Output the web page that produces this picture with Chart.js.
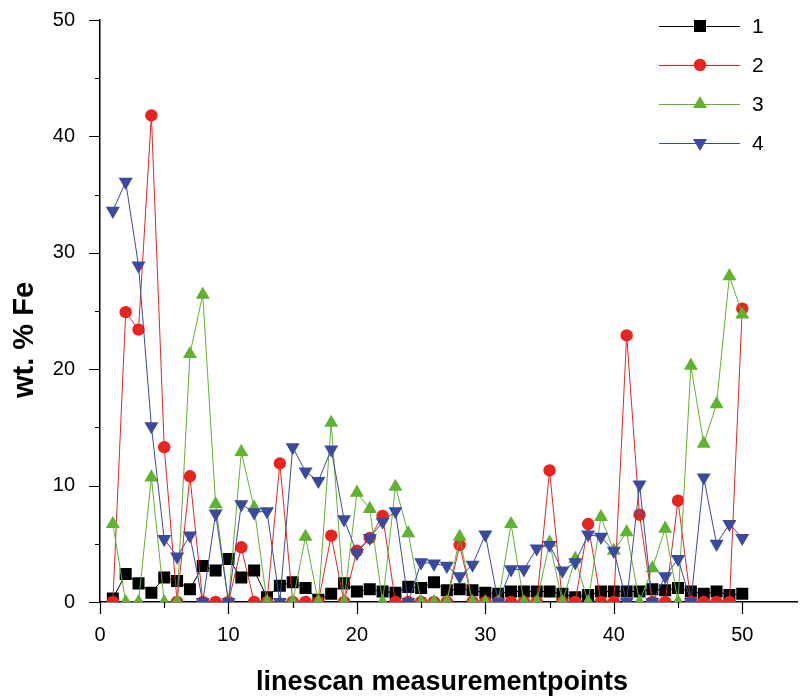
<!DOCTYPE html>
<html>
<head>
<meta charset="utf-8">
<title>wt. % Fe linescan</title>
<script src="https://cdn.jsdelivr.net/npm/chart.js@4.4.1/dist/chart.umd.min.js"></script>
<style>
  html, body { margin: 0; padding: 0; background: #fff; }
  canvas { display: block; }
</style>
</head>
<body>
<canvas id="feChart" width="806" height="697"></canvas>
<script>
// Measurement points along the linescan
const points = [1, 2, 3, 4, 5, 6, 7, 8, 9, 10, 11, 12, 13, 14, 15, 16, 17, 18, 19, 20,
    21, 22, 23, 24, 25, 26, 27, 28, 29, 30, 31, 32, 33, 34, 35, 36, 37, 38, 39, 40,
    41, 42, 43, 44, 45, 46, 47, 48, 49, 50];

// wt. % Fe per scan
const scan1 = [0.3, 2.4, 1.6, 0.8, 2.1, 1.8, 1.1, 3.1, 2.7, 3.7, 2.1, 2.7, 0.4, 1.4, 1.7, 1.2, 0.2, 0.7, 1.6, 0.9,
    1.1, 0.9, 0.8, 1.3, 1.2, 1.7, 1.0, 1.1, 1.0, 0.8, 0.7, 0.9, 0.9, 0.9, 0.9, 0.7, 0.4, 0.6, 0.9, 0.9,
    0.9, 0.9, 1.1, 1.0, 1.2, 0.9, 0.7, 0.9, 0.6, 0.7];
const scan2 = [0, 24.9, 23.4, 41.8, 13.3, 0, 10.8, 0, 0, 0, 4.7, 0, 0, 11.9, 0, 0, 0, 5.7, 0, 4.4,
    5.5, 7.4, 0, 0, 0, 0, 0, 4.9, 0, 0, 0, 0, 0, 0, 11.3, 0, 0, 6.7, 0, 0,
    22.9, 7.5, 0, 0, 8.7, 0, 0, 0, 0, 25.2];
const scan3 = [6.7, 0, 0, 10.7, 0, 0, 21.3, 26.4, 8.4, 0, 12.9, 8.1, 0, 0, 0, 5.6, 0, 15.4, 0, 9.4,
    8.0, 0, 9.9, 5.9, 0, 0, 0, 5.6, 0, 0, 0, 6.7, 0, 0, 5.1, 0, 3.7, 0, 7.3, 4.4,
    6.0, 0, 2.9, 6.3, 0, 20.3, 13.6, 17.0, 28.0, 24.7];
const scan4 = [33.6, 36.1, 28.9, 15.1, 5.4, 3.9, 5.7, 0, 7.6, 0, 8.4, 7.7, 7.8, 0, 13.3, 11.2, 10.4, 13.1, 7.1, 4.2,
    5.5, 6.9, 7.8, 0, 3.4, 3.3, 3.1, 2.2, 3.2, 5.8, 0, 2.8, 2.8, 4.6, 4.9, 2.7, 3.4, 5.8, 5.6, 4.4,
    0, 10.1, 0, 2.2, 3.7, 0, 10.7, 5.0, 6.7, 5.5];

const seriesLabels = ['1', '2', '3', '4'];

// Axis ticks
const xTicks = [0, 10, 20, 30, 40, 50];
const xMinorTicks = [5, 15, 25, 35, 45];
const yTicks = [0, 10, 20, 30, 40, 50];
const yMinorTicks = [5, 15, 25, 35, 45];

const xTitle = 'linescan measurementpoints';
const yTitle = 'wt. % Fe';

const FONT = '"Liberation Sans", Arial, Helvetica, sans-serif';

function toXY(values) {
    return points.map((p, i) => ({ x: p, y: values[i] }));
}

function makeSeries(label, values, color, style, radius, rotation, order) {
    return {
        label: label,
        data: toXY(values),
        borderColor: color,
        backgroundColor: color,
        borderWidth: 1,
        pointStyle: style,
        pointRadius: radius,
        pointRotation: rotation,
        pointBorderWidth: 0,
        pointBackgroundColor: color,
        tension: 0,
        order: order
    };
}

// Tick marks drawn outward, long for labelled ticks, short in between
const tickMarks = {
    id: 'tickMarks',
    afterDraw(chart) {
        const { ctx, scales: { x, y } } = chart;
        ctx.save();
        ctx.strokeStyle = '#000';
        ctx.lineWidth = 1.2;
        ctx.beginPath();
        const addX = (v, len) => {
            const px = Math.round(x.getPixelForValue(v)) + 0.5;
            ctx.moveTo(px, y.bottom);
            ctx.lineTo(px, y.bottom + len);
        };
        const addY = (v, len) => {
            const py = Math.round(y.getPixelForValue(v)) + 0.5;
            ctx.moveTo(x.left, py);
            ctx.lineTo(x.left - len, py);
        };
        xTicks.forEach(v => addX(v, 12));
        xMinorTicks.forEach(v => addX(v, 6));
        yTicks.forEach(v => addY(v, 11));
        yMinorTicks.forEach(v => addY(v, 5));
        ctx.stroke();
        ctx.restore();
    }
};

// Legend: short line with the marker in the middle
const lineLegend = {
    id: 'lineLegend',
    afterDraw(chart) {
        const ctx = chart.ctx;
        ctx.save();
        chart.data.datasets.forEach((ds, i) => {
            const cy = 26 + i * 39;
            ctx.strokeStyle = ds.borderColor;
            ctx.lineWidth = 1;
            ctx.beginPath();
            ctx.moveTo(659, cy + 0.5);
            ctx.lineTo(740, cy + 0.5);
            ctx.stroke();
            ctx.fillStyle = ds.pointBackgroundColor;
            Chart.helpers.drawPoint(ctx, {
                pointStyle: ds.pointStyle,
                rotation: ds.pointRotation,
                radius: ds.pointRadius,
                borderWidth: 0
            }, 700, cy);
            ctx.fillStyle = '#000';
            ctx.font = '21px ' + FONT;
            ctx.textAlign = 'left';
            ctx.textBaseline = 'middle';
            ctx.fillText(ds.label, 752, cy + 1);
        });
        ctx.restore();
    }
};

// Axis titles
const axisTitles = {
    id: 'axisTitles',
    afterDraw(chart) {
        const ctx = chart.ctx;
        ctx.save();
        ctx.fillStyle = '#000';
        ctx.textAlign = 'center';
        ctx.textBaseline = 'alphabetic';
        ctx.font = 'bold 27px ' + FONT;
        ctx.fillText(xTitle, 442, 690);
        ctx.translate(33, 340);
        ctx.rotate(-Math.PI / 2);
        ctx.font = 'bold 29px ' + FONT;
        ctx.fillText(yTitle, 0, 0);
        ctx.restore();
    }
};

const ctx = document.getElementById('feChart').getContext('2d');
new Chart(ctx, {
    type: 'line',
    data: {
        datasets: [
            makeSeries(seriesLabels[0], scan1, '#000000', 'rect', 8.5, 0, 3),
            makeSeries(seriesLabels[1], scan2, '#e8241f', 'circle', 6.2, 0, 2),
            makeSeries(seriesLabels[2], scan3, '#62b232', 'triangle', 8.1, 0, 1),
            makeSeries(seriesLabels[3], scan4, '#3b4a9c', 'triangle', 8.1, 180, 0)
        ]
    },
    options: {
        responsive: false,
        animation: false,
        layout: { padding: { top: 20, right: 0, bottom: 0, left: 0 } },
        plugins: {
            legend: { display: false },
            tooltip: { enabled: false }
        },
        scales: {
            x: {
                type: 'linear',
                min: 0,
                max: 54.3,
                afterBuildTicks: scale => { scale.ticks = xTicks.map(v => ({ value: v })); },
                afterFit: scale => {
                    scale.height = 95;
                    scale.paddingLeft = 0;
                    scale.paddingRight = 0;
                },
                grid: { display: false, drawTicks: false },
                border: { display: true, color: '#000', width: 1.5 },
                ticks: {
                    color: '#000',
                    font: { family: FONT, size: 20 },
                    padding: 21,
                    maxRotation: 0
                }
            },
            y: {
                type: 'linear',
                min: 0,
                max: 50,
                afterBuildTicks: scale => { scale.ticks = yTicks.map(v => ({ value: v })); },
                afterFit: scale => {
                    scale.width = 100;
                    scale.paddingTop = 0;
                    scale.paddingBottom = 0;
                },
                grid: { display: false, drawTicks: false },
                border: { display: true, color: '#000', width: 1.5 },
                ticks: {
                    color: '#000',
                    font: { family: FONT, size: 20 },
                    padding: 25
                }
            }
        }
    },
    plugins: [tickMarks, lineLegend, axisTitles]
});
</script>
</body>
</html>
